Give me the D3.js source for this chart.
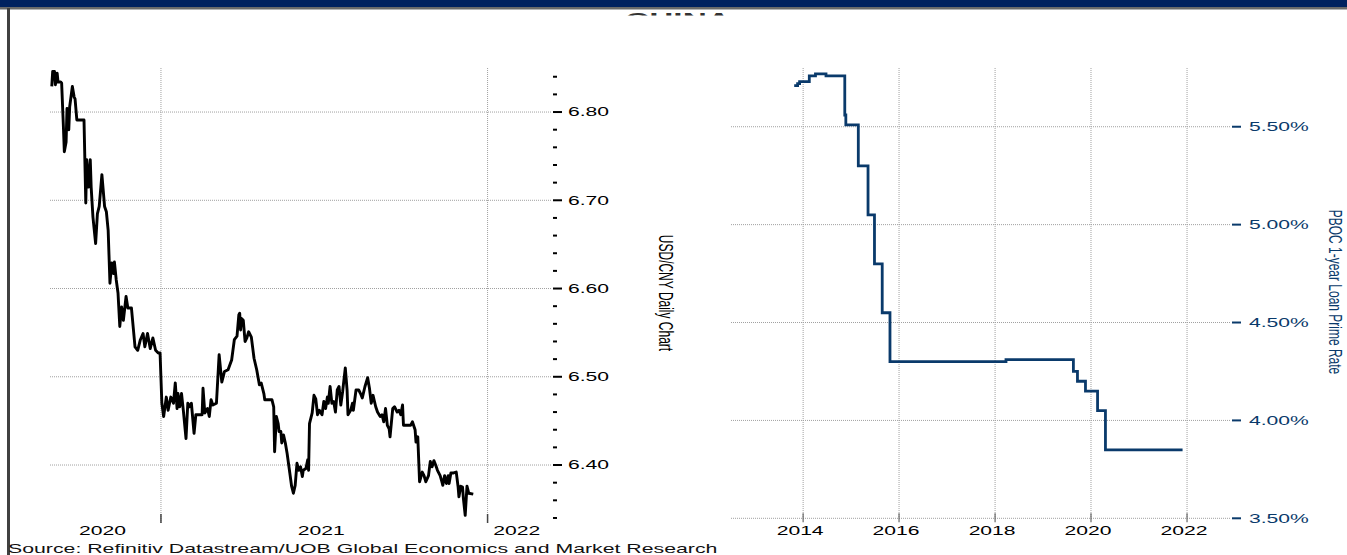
<!DOCTYPE html>
<html><head><meta charset="utf-8">
<script src="https://cdn.jsdelivr.net/npm/d3@7"></script>
<style>html,body{margin:0;padding:0;background:#fff;overflow:hidden}svg{display:block}</style>
</head><body>
<svg id="c" width="1347" height="555"></svg>
<script>
// ---------- DATA ----------
const fxDates = ["2020-09-01","2020-09-02","2020-09-04","2020-09-05","2020-09-07","2020-09-08","2020-09-11","2020-09-12","2020-09-14","2020-09-15","2020-09-17","2020-09-18","2020-09-20","2020-09-21","2020-09-24","2020-09-26","2020-09-27","2020-09-29","2020-10-07","2020-10-09","2020-10-10","2020-10-12","2020-10-14","2020-10-15","2020-10-17","2020-10-20","2020-10-22","2020-10-24","2020-10-27","2020-10-30","2020-11-01","2020-11-03","2020-11-05","2020-11-07","2020-11-09","2020-11-10","2020-11-12","2020-11-14","2020-11-16","2020-11-18","2020-11-20","2020-11-23","2020-11-25","2020-11-29","2020-12-03","2020-12-06","2020-12-09","2020-12-12","2020-12-14","2020-12-17","2020-12-20","2020-12-23","2020-12-26","2020-12-29","2020-12-31","2021-01-02","2021-01-04","2021-01-07","2021-01-09","2021-01-12","2021-01-15","2021-01-17","2021-01-19","2021-01-20","2021-01-22","2021-01-24","2021-01-26","2021-01-29","2021-01-31","2021-02-02","2021-02-04","2021-02-07","2021-02-09","2021-02-16","2021-02-17","2021-02-19","2021-02-22","2021-02-24","2021-02-26","2021-02-28","2021-03-04","2021-03-07","2021-03-10","2021-03-13","2021-03-17","2021-03-21","2021-03-24","2021-03-27","2021-03-29","2021-03-30","2021-03-31","2021-04-01","2021-04-03","2021-04-05","2021-04-07","2021-04-09","2021-04-12","2021-04-15","2021-04-18","2021-04-21","2021-04-23","2021-04-26","2021-04-27","2021-05-05","2021-05-07","2021-05-08","2021-05-10","2021-05-12","2021-05-13","2021-05-15","2021-05-16","2021-05-18","2021-05-20","2021-05-22","2021-05-25","2021-05-27","2021-05-29","2021-05-31","2021-06-02","2021-06-04","2021-06-06","2021-06-08","2021-06-09","2021-06-12","2021-06-14","2021-06-15","2021-06-16","2021-06-19","2021-06-21","2021-06-23","2021-06-25","2021-06-27","2021-06-30","2021-07-02","2021-07-04","2021-07-06","2021-07-07","2021-07-09","2021-07-11","2021-07-13","2021-07-15","2021-07-17","2021-07-19","2021-07-21","2021-07-23","2021-07-26","2021-07-28","2021-07-29","2021-08-01","2021-08-03","2021-08-04","2021-08-07","2021-08-10","2021-08-12","2021-08-14","2021-08-17","2021-08-20","2021-08-22","2021-08-24","2021-08-26","2021-08-29","2021-08-31","2021-09-03","2021-09-05","2021-09-07","2021-09-09","2021-09-11","2021-09-13","2021-09-14","2021-09-17","2021-09-19","2021-09-22","2021-09-24","2021-09-26","2021-09-28","2021-09-29","2021-10-07","2021-10-09","2021-10-12","2021-10-13","2021-10-15","2021-10-17","2021-10-20","2021-10-22","2021-10-24","2021-10-27","2021-10-29","2021-10-31","2021-11-02","2021-11-04","2021-11-06","2021-11-09","2021-11-11","2021-11-12","2021-11-14","2021-11-16","2021-11-18","2021-11-19","2021-11-21","2021-11-24","2021-11-27","2021-11-29","2021-11-30","2021-12-02","2021-12-04","2021-12-05","2021-12-07","2021-12-09","2021-12-11","2021-12-16"];
const fxValues = [6.829,6.846,6.846,6.831,6.844,6.834,6.834,6.833,6.783,6.755,6.766,6.804,6.780,6.806,6.829,6.817,6.815,6.791,6.791,6.697,6.746,6.715,6.746,6.715,6.681,6.651,6.685,6.693,6.729,6.693,6.687,6.666,6.606,6.629,6.617,6.630,6.610,6.595,6.557,6.579,6.564,6.591,6.578,6.578,6.534,6.530,6.542,6.549,6.534,6.549,6.532,6.544,6.530,6.527,6.527,6.470,6.455,6.477,6.462,6.477,6.470,6.493,6.464,6.481,6.466,6.481,6.462,6.430,6.470,6.466,6.470,6.436,6.457,6.457,6.487,6.459,6.464,6.455,6.474,6.468,6.470,6.525,6.494,6.506,6.508,6.519,6.542,6.546,6.570,6.572,6.553,6.566,6.564,6.540,6.544,6.551,6.545,6.521,6.508,6.491,6.493,6.481,6.474,6.474,6.466,6.415,6.455,6.447,6.438,6.438,6.425,6.434,6.425,6.413,6.391,6.376,6.368,6.377,6.402,6.394,6.398,6.387,6.394,6.396,6.406,6.394,6.447,6.459,6.479,6.475,6.457,6.462,6.457,6.472,6.464,6.477,6.470,6.489,6.470,6.472,6.460,6.485,6.489,6.468,6.483,6.510,6.485,6.457,6.462,6.470,6.462,6.485,6.485,6.481,6.476,6.489,6.499,6.487,6.470,6.479,6.466,6.460,6.455,6.457,6.449,6.464,6.445,6.441,6.432,6.464,6.466,6.460,6.462,6.457,6.468,6.445,6.445,6.449,6.440,6.426,6.432,6.381,6.392,6.388,6.381,6.388,6.404,6.398,6.405,6.400,6.394,6.388,6.381,6.377,6.388,6.379,6.388,6.379,6.391,6.391,6.392,6.376,6.364,6.376,6.375,6.362,6.343,6.376,6.368,6.367];
const fxTicks = [6.40,6.50,6.60,6.70,6.80];
const fxTickLabels = ["6.40","6.50","6.60","6.70","6.80"];
const fxMinorTicks = [6.34,6.36,6.38,6.42,6.44,6.46,6.48,6.52,6.54,6.56,6.58,6.62,6.64,6.66,6.68,6.72,6.74,6.76,6.78,6.82,6.84];
const fxYearTicks = ["2021-01-01","2022-01-01"];
const fxYearLabels = ["2020","2021","2022"];
const fxTitle = "USD/CNY Daily Chart";

const lprDates = ["2013-10-25","2013-11-20","2013-12-05","2014-02-17","2014-04-05","2014-06-24","2014-11-14","2014-11-22","2015-02-25","2015-05-10","2015-06-28","2015-08-26","2015-10-24","2018-03-25","2019-08-20","2019-09-20","2019-11-20","2020-02-20","2020-04-20","2021-11-28"];
const lprValues = [5.71,5.72,5.73,5.76,5.77,5.76,5.56,5.51,5.30,5.05,4.80,4.55,4.30,4.31,4.25,4.20,4.15,4.05,3.85,3.85];
const lprTicks = [3.5,4.0,4.5,5.0,5.5];
const lprTickLabels = ["3.50%","4.00%","4.50%","5.00%","5.50%"];
const lprYearTicks = ["2014-01-01","2016-01-01","2018-01-01","2020-01-01","2022-01-01"];
const lprYearLabels = ["2014","2016","2018","2020","2022"];
const lprTitle = "PBOC 1-year Loan Prime Rate";

const pageTitle = "CHINA";
const sourceText = "Source: Refinitiv Datastream/UOB Global Economics and Market Research";

// ---------- DRAW ----------
const parse = d3.timeParse("%Y-%m-%d");
const svg = d3.select("#c");
const FONT = "'Liberation Sans', Arial, sans-serif";
const SX = 1.76;      // horizontal stretch of the original picture
const NAVY = "#0a3a6b";
const GRID = "#a0a0a0";

function stext(g, x, y, str, size, fill, anchor, weight, sx) {
  return g.append("text")
    .attr("transform", `translate(${x},${y}) scale(${sx || SX},1)`)
    .attr("text-anchor", anchor || "start")
    .attr("font-family", FONT).attr("font-size", size)
    .attr("font-weight", weight || "normal")
    .attr("fill", fill).text(str);
}
function vtext(g, x, y, str, size, fill, sx) {
  return g.append("text")
    .attr("transform", `translate(${x},${y}) scale(${sx || SX},1) rotate(90)`)
    .attr("text-anchor", "middle")
    .attr("font-family", FONT).attr("font-size", size)
    .attr("fill", fill).text(str);
}

// title (mostly hidden behind panels)
svg.append("clipPath").attr("id","tclip").append("rect")
  .attr("x",0).attr("y",9).attr("width",1347).attr("height",6.5);
const tg = svg.append("g").attr("clip-path","url(#tclip)");
stext(tg, 678, 25.5, pageTitle, 19, "#333", "middle", "bold");

// ---------- LEFT CHART ----------
const L = {x0:50, x1:552, y0:523, y1:68};
const xL = d3.scaleTime().domain([parse("2020-08-30"), parse("2022-03-14")]).range([L.x0, L.x1]);
const yL = d3.scaleLinear().domain([6.3343, 6.8499]).range([L.y0, L.y1]);
const gL = svg.append("g");

gL.selectAll(".hg").data(fxTicks).enter().append("line")
  .attr("x1", L.x0).attr("x2", L.x1).attr("y1", d=>yL(d)).attr("y2", d=>yL(d))
  .attr("stroke", GRID).attr("stroke-width",1).attr("stroke-dasharray","1,1");
gL.selectAll(".vg").data(fxYearTicks).enter().append("line")
  .attr("x1", d=>xL(parse(d))).attr("x2", d=>xL(parse(d))).attr("y1", L.y1).attr("y2", L.y0)
  .attr("stroke", GRID).attr("stroke-width",1).attr("stroke-dasharray","1,1");
gL.selectAll(".xt").data(fxYearTicks).enter().append("line")
  .attr("x1", d=>xL(parse(d))).attr("x2", d=>xL(parse(d))).attr("y1", L.y0-9).attr("y2", L.y0)
  .attr("stroke", "#444").attr("stroke-width",1.5);

// year labels centered in visible year spans
const bounds = [L.x0].concat(fxYearTicks.map(d=>xL(parse(d)))).concat([L.x1]);
fxYearLabels.forEach((t,i)=>{
  stext(gL, (bounds[i]+bounds[i+1])/2 - 3, 534.5, t, 12, "#000", "middle");
});

// right y axis ticks
gL.selectAll(".mt").data(fxMinorTicks).enter().append("line")
  .attr("x1", 553).attr("x2", 557).attr("y1", d=>yL(d)).attr("y2", d=>yL(d))
  .attr("stroke","#000").attr("stroke-width",2);
gL.selectAll(".Mt").data(fxTicks).enter().append("line")
  .attr("x1", 553).attr("x2", 562).attr("y1", d=>yL(d)).attr("y2", d=>yL(d))
  .attr("stroke","#000").attr("stroke-width",2);
fxTicks.forEach((v,i)=>stext(gL, 568, yL(v)+4.3, fxTickLabels[i], 12, "#000", "start"));
vtext(gL, 659, 293, fxTitle, 12, "#000", 1.7);

const fxData = fxDates.map((d,i)=>({d:parse(d), v:fxValues[i]}));
gL.append("path").datum(fxData)
  .attr("d", d3.line().x(p=>xL(p.d)).y(p=>yL(p.v)))
  .attr("fill","none").attr("stroke","#000").attr("stroke-width",2.9)
  .attr("stroke-linejoin","round");

// ---------- RIGHT CHART ----------
const R = {x0:731, x1:1230, y0:518.3, y1:68};
const xR = d3.scaleTime().domain([parse("2012-07-01"), parse("2022-11-24")]).range([R.x0, R.x1]);
const yR = d3.scaleLinear().domain([3.5, 5.8]).range([R.y0, R.y1]);
const gR = svg.append("g");

gR.selectAll(".hg").data(lprTicks).enter().append("line")
  .attr("x1", R.x0).attr("x2", R.x1).attr("y1", d=>yR(d)).attr("y2", d=>yR(d))
  .attr("stroke", GRID).attr("stroke-width",1).attr("stroke-dasharray","1,1");
gR.selectAll(".vg").data(lprYearTicks).enter().append("line")
  .attr("x1", d=>xR(parse(d))).attr("x2", d=>xR(parse(d))).attr("y1", R.y1).attr("y2", R.y0)
  .attr("stroke", GRID).attr("stroke-width",1).attr("stroke-dasharray","1,1");
gR.selectAll(".xt").data(lprYearTicks).enter().append("line")
  .attr("x1", d=>xR(parse(d))).attr("x2", d=>xR(parse(d))).attr("y1", R.y0-5).attr("y2", R.y0+4)
  .attr("stroke", "#666").attr("stroke-width",1.2);
lprYearTicks.forEach((d,i)=>stext(gR, xR(parse(d))-3, 535, lprYearLabels[i], 12, "#000", "middle"));

gR.selectAll(".Mt").data(lprTicks).enter().append("line")
  .attr("x1", 1232).attr("x2", 1241).attr("y1", d=>yR(d)).attr("y2", d=>yR(d))
  .attr("stroke",NAVY).attr("stroke-width",2);
lprTicks.forEach((v,i)=>stext(gR, 1249, yR(v)+4.3, lprTickLabels[i], 12, NAVY, "start"));
vtext(gR, 1329, 292, lprTitle, 12, NAVY, 1.5);

const lprData = lprDates.map((d,i)=>({d:parse(d), v:lprValues[i]}));
gR.append("path").datum(lprData)
  .attr("d", d3.line().curve(d3.curveStepAfter).x(p=>xR(p.d)).y(p=>yR(p.v)))
  .attr("fill","none").attr("stroke",NAVY).attr("stroke-width",2.8);

// ---------- FRAME ----------
svg.append("rect").attr("x",0).attr("y",0).attr("width",1347).attr("height",7).attr("fill","#00215f");
svg.append("rect").attr("x",0).attr("y",7).attr("width",1347).attr("height",2.5).attr("fill","#6a6a6a");
svg.append("rect").attr("x",7).attr("y",8).attr("width",3).attr("height",547).attr("fill","#404040");

// source
stext(svg, 8, 553, sourceText, 12, "#111", "start", "normal", 1.775);
</script>
</body></html>
